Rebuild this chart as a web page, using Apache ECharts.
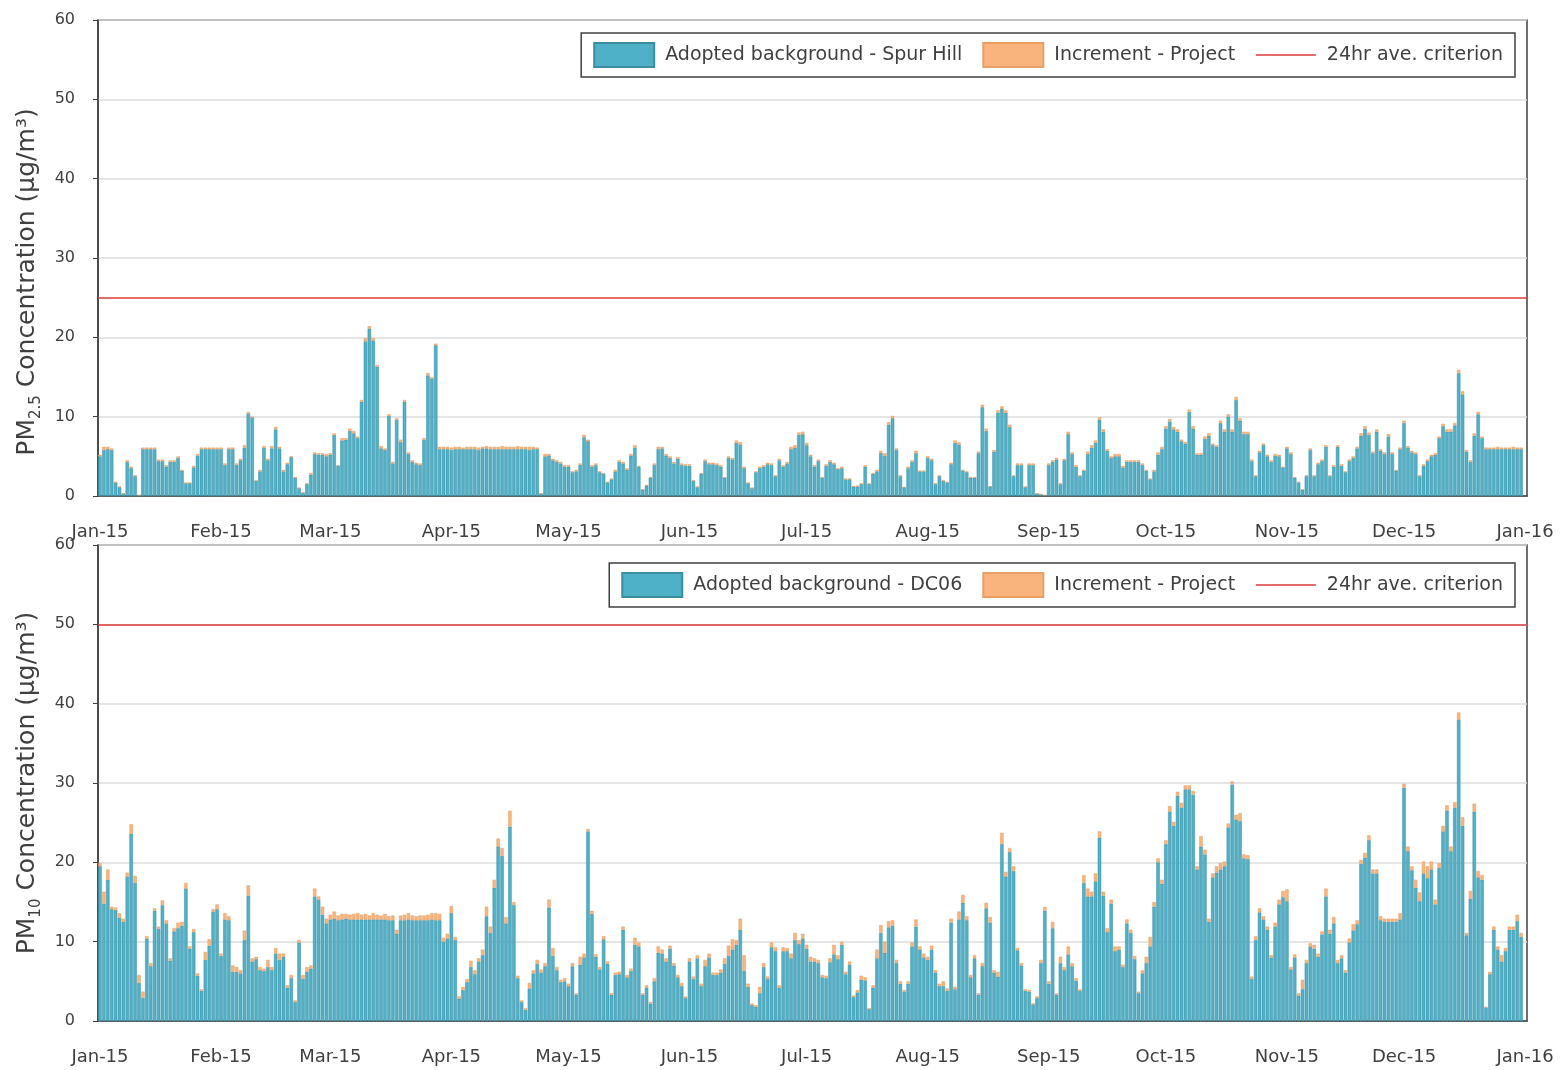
<!DOCTYPE html>
<html><head><meta charset="utf-8">
<script src="https://cdn.jsdelivr.net/npm/echarts@6/dist/echarts.min.js"></script>
<style>html,body{margin:0;padding:0;background:#fff}#c{width:1562px;height:1070px}</style>
</head><body><div id="c"></div>
<script>
// ---------- DATA ----------
const monthLabels = ['Jan-15','Feb-15','Mar-15','Apr-15','May-15','Jun-15','Jul-15','Aug-15','Sep-15','Oct-15','Nov-15','Dec-15','Jan-16'];
const monthDays = [31,28,31,30,31,30,31,31,30,31,30,31];
const yTicks = [0,10,20,30,40,50,60];

const pm25Criterion = 25;
const pm10Criterion = 50;

// PM2.5 total (background + increment), one value per day
const pm25Total = [
 5.2,6.2,6.2,6.0,1.8,1.2,0.3,4.5,3.7,2.6,0.1,6.1,6.1,6.1,6.1,4.6,4.6,3.9,4.5,4.5,5.0,3.3,1.7,1.7,3.8,5.3,6.1,6.1,6.1,6.1,6.1,
 6.1,4.1,6.1,6.1,4.1,4.7,6.4,10.6,10.0,2.0,3.3,6.3,4.7,6.3,8.7,6.2,3.3,4.2,5.0,2.4,1.0,0.5,1.6,2.9,5.5,5.4,5.4,5.3,
 5.4,7.9,3.9,7.3,7.3,8.5,8.2,7.5,12.1,19.9,21.4,19.9,16.5,6.3,6.0,10.3,4.3,9.8,7.1,12.1,5.5,4.5,4.2,4.1,7.3,15.5,15.0,19.2,6.2,6.2,6.2,
 6.1,6.2,6.2,6.1,6.2,6.2,6.2,6.1,6.2,6.3,6.2,6.2,6.2,6.3,6.2,6.2,6.2,6.3,6.2,6.2,6.2,6.2,6.1,0.3,5.3,5.3,4.7,4.5,4.3,3.9,
 3.9,3.1,3.3,4.1,7.7,7.1,3.9,4.1,3.1,2.9,1.8,2.2,3.3,4.5,4.3,3.5,5.3,6.4,3.8,0.8,1.4,2.4,4.1,6.2,6.2,5.3,5.0,4.3,4.9,4.1,4.0,
 4.0,2.0,1.2,2.9,4.6,4.2,4.2,4.1,3.9,2.4,5.0,4.8,7.0,6.8,3.7,1.7,1.0,3.1,3.7,3.9,4.2,4.1,2.6,4.7,3.9,4.3,6.2,6.4,8.0,8.1,
 6.7,5.2,3.9,4.6,2.4,4.0,4.5,4.2,3.5,3.7,2.2,2.2,1.2,1.3,1.6,3.9,1.6,2.9,3.3,5.7,5.4,9.3,10.1,6.0,2.6,1.1,3.7,4.5,5.7,3.2,3.2,
 5.0,4.7,1.6,2.6,2.0,1.8,4.2,7.0,6.8,3.3,3.1,2.4,2.4,5.6,11.5,8.5,1.2,5.8,10.8,11.3,10.8,9.0,2.6,4.1,4.1,1.2,4.1,4.1,0.3,0.2,0.1,
 4.1,4.5,4.8,1.6,4.7,8.1,5.5,3.9,2.6,3.3,5.6,6.4,7.0,9.9,8.4,5.9,5.0,5.3,5.3,3.8,4.5,4.5,4.5,4.5,4.1,3.3,2.2,3.3,5.5,6.2,
 8.8,9.7,8.7,8.4,7.1,6.8,10.9,8.8,5.4,5.4,7.5,7.9,6.6,6.4,9.5,8.4,10.3,8.4,12.5,9.8,8.1,8.1,4.6,2.6,5.7,6.6,5.2,4.5,5.3,5.2,3.7,
 6.2,5.5,2.4,1.8,0.8,2.6,6.0,2.6,4.2,4.6,6.4,2.6,3.9,6.4,4.0,3.1,4.6,5.0,6.2,7.9,8.8,8.0,5.6,8.4,5.9,5.5,7.8,5.5,3.3,6.1,
 9.5,6.3,5.7,5.5,2.6,4.0,4.6,5.2,5.4,7.5,9.1,8.4,8.4,9.2,15.9,13.2,5.8,4.5,7.9,10.6,7.5,6.1,6.1,6.1,6.2,6.1,6.1,6.1,6.2,6.1,6.1
];
const pm25Increment = [
 0.2,0.4,0.3,0.2,0.1,0.1,0.0,0.2,0.2,0.1,0.0,0.2,0.2,0.2,0.2,0.2,0.2,0.2,0.2,0.2,0.2,0.1,0.1,0.1,0.2,0.2,0.2,0.2,0.2,0.2,0.2,
 0.2,0.2,0.2,0.2,0.2,0.2,0.3,0.2,0.1,0.1,0.2,0.2,0.2,0.3,0.3,0.2,0.2,0.2,0.1,0.1,0.0,0.1,0.1,0.2,0.2,0.2,0.2,0.3,
 0.2,0.2,0.1,0.3,0.2,0.3,0.3,0.2,0.2,0.4,0.3,0.3,0.2,0.3,0.2,0.2,0.2,0.2,0.3,0.2,0.2,0.2,0.2,0.2,0.2,0.3,0.2,0.2,0.3,0.3,0.3,
 0.3,0.3,0.3,0.2,0.3,0.3,0.3,0.3,0.2,0.3,0.3,0.3,0.3,0.4,0.3,0.3,0.3,0.4,0.3,0.3,0.4,0.3,0.2,0.0,0.3,0.2,0.2,0.2,0.2,0.2,
 0.2,0.1,0.2,0.2,0.3,0.2,0.2,0.2,0.1,0.1,0.1,0.1,0.2,0.2,0.2,0.2,0.2,0.3,0.1,0.0,0.1,0.1,0.2,0.3,0.2,0.2,0.2,0.2,0.2,0.2,0.2,
 0.2,0.1,0.1,0.1,0.2,0.2,0.2,0.2,0.2,0.1,0.2,0.2,0.3,0.3,0.2,0.1,0.0,0.1,0.2,0.2,0.2,0.2,0.1,0.2,0.2,0.2,0.3,0.3,0.3,0.3,
 0.3,0.2,0.2,0.2,0.1,0.2,0.2,0.2,0.1,0.2,0.1,0.1,0.0,0.1,0.1,0.2,0.1,0.1,0.2,0.3,0.3,0.3,0.3,0.2,0.1,0.0,0.2,0.2,0.3,0.1,0.1,
 0.2,0.2,0.1,0.1,0.1,0.1,0.2,0.3,0.3,0.1,0.1,0.1,0.1,0.2,0.3,0.3,0.0,0.2,0.3,0.3,0.3,0.3,0.1,0.2,0.2,0.1,0.2,0.2,0.0,0.0,0.0,
 0.2,0.2,0.2,0.1,0.2,0.3,0.2,0.2,0.1,0.1,0.3,0.3,0.3,0.3,0.3,0.2,0.2,0.3,0.3,0.2,0.2,0.2,0.2,0.2,0.2,0.1,0.1,0.2,0.3,0.3,
 0.3,0.3,0.3,0.3,0.2,0.2,0.3,0.3,0.2,0.2,0.3,0.3,0.2,0.2,0.3,0.3,0.3,0.3,0.4,0.3,0.3,0.3,0.2,0.1,0.2,0.2,0.2,0.2,0.2,0.2,0.1,
 0.2,0.2,0.1,0.1,0.0,0.1,0.2,0.1,0.2,0.2,0.2,0.1,0.2,0.2,0.2,0.1,0.2,0.2,0.2,0.3,0.3,0.3,0.2,0.3,0.2,0.2,0.3,0.2,0.1,0.2,
 0.3,0.2,0.2,0.2,0.1,0.2,0.2,0.2,0.2,0.2,0.3,0.3,0.3,0.3,0.4,0.4,0.2,0.2,0.3,0.3,0.2,0.2,0.2,0.2,0.3,0.2,0.2,0.2,0.3,0.2,0.2
];

// PM10 total (background + increment), one value per day
const pm10Total = [
 19.9,16.3,19.1,14.4,14.3,13.6,12.9,18.7,24.8,18.3,5.8,3.7,10.7,7.3,14.2,11.9,15.2,12.7,7.9,11.7,12.4,12.5,17.4,9.4,11.6,6.0,4.0,8.7,10.3,14.1,14.7,
 8.5,13.6,13.2,7.0,6.8,6.4,11.4,17.1,7.9,8.1,6.8,6.6,7.7,6.8,9.2,8.5,8.5,4.5,5.8,2.6,10.2,5.8,6.8,7.0,16.7,15.7,14.4,12.9,
 13.4,13.8,13.3,13.5,13.5,13.4,13.5,13.6,13.4,13.5,13.3,13.6,13.4,13.3,13.5,13.2,13.3,11.5,13.3,13.4,13.6,13.3,13.2,13.3,13.3,13.4,13.6,13.6,13.5,10.5,11.0,
 14.5,10.6,3.1,4.3,5.3,7.6,6.4,7.9,9.0,14.4,11.9,17.8,23.0,21.8,13.1,26.5,15.0,5.7,2.6,1.6,4.8,6.4,7.7,6.5,7.3,15.3,9.2,6.8,5.2,5.4,
 4.7,7.3,3.5,8.1,8.5,24.2,13.9,8.4,6.8,10.7,7.5,3.5,6.1,6.2,11.9,5.8,6.6,10.5,9.9,3.5,4.5,2.4,5.4,9.4,9.0,7.9,9.5,7.3,5.8,4.8,3.1,
 7.9,5.6,8.3,4.7,7.7,8.5,6.1,6.1,6.5,7.9,9.5,10.3,10.2,12.9,8.3,4.7,2.2,2.0,4.3,7.3,5.6,9.9,9.3,4.5,9.3,9.2,8.5,11.1,10.2,11.0,
 9.6,8.1,7.9,7.7,5.8,5.7,7.9,9.6,8.3,10.0,6.2,7.5,3.2,3.9,5.7,5.5,1.6,4.5,9.0,12.1,10.0,12.6,12.7,7.7,5.0,3.9,5.0,9.9,12.8,9.4,8.5,
 8.1,9.5,6.4,4.7,5.0,4.1,12.9,4.3,13.8,15.9,13.2,5.8,8.3,3.5,7.3,14.9,13.1,6.4,6.2,23.7,18.8,21.8,19.5,9.2,7.3,4.0,3.9,2.2,3.1,7.7,14.4,
 5.0,12.5,3.5,8.1,6.8,9.4,7.3,5.4,4.0,18.4,16.7,16.3,18.6,23.9,16.3,11.7,15.3,9.4,9.4,7.1,12.8,11.5,8.2,3.7,6.4,8.1,10.6,15.0,20.5,17.8,
 22.8,27.1,25.1,28.9,27.5,29.7,29.7,29.0,19.5,23.3,21.6,12.9,18.6,19.5,19.9,20.1,24.9,30.2,26.0,26.2,21.0,20.9,5.6,10.7,14.2,13.2,11.9,8.3,12.4,15.3,16.4,
 16.6,6.8,8.4,3.5,5.2,7.7,9.8,9.6,8.5,11.3,16.7,11.5,13.1,7.7,8.3,6.4,10.4,12.2,12.7,20.3,21.2,23.4,19.1,19.1,13.2,12.9,12.9,12.9,12.9,13.6,
 29.9,22.0,19.5,17.8,16.2,20.1,19.5,20.1,15.3,19.9,24.6,27.2,22.0,27.6,38.9,25.7,11.1,16.4,27.4,18.9,18.4,1.8,6.2,11.9,9.4,8.3,9.2,11.9,11.9,13.4,11.1
];
const pm10Increment = [
 0.4,1.5,1.3,0.3,0.3,0.6,0.4,0.5,1.2,0.9,1.0,0.8,0.3,0.4,0.3,0.3,0.6,0.4,0.3,0.4,0.7,0.5,0.7,0.3,0.4,0.3,0.2,1.0,0.8,0.3,0.6,
 0.3,0.8,0.5,0.8,0.6,0.4,1.2,1.3,0.4,0.3,0.4,0.3,0.9,0.4,0.7,0.8,0.4,0.3,0.4,0.2,0.3,0.5,0.6,0.4,1.0,0.4,1.0,0.6,
 0.6,0.9,0.6,0.7,0.6,0.6,0.7,0.8,0.6,0.7,0.5,0.8,0.6,0.5,0.7,0.5,0.6,0.5,0.6,0.7,0.8,0.6,0.5,0.6,0.6,0.7,0.8,0.9,0.8,0.5,0.6,
 0.9,0.4,0.3,0.4,0.4,0.8,0.5,0.4,0.7,1.2,0.8,1.0,1.0,1.0,0.8,2.0,0.4,0.3,0.2,0.2,0.7,0.4,0.5,0.4,0.4,1.0,1.0,0.4,0.3,0.4,
 0.3,0.4,0.2,1.0,0.5,0.3,0.4,0.3,0.3,0.4,0.3,0.2,0.3,0.3,0.4,0.3,0.3,0.9,0.5,0.2,0.3,0.2,0.4,0.8,0.5,0.4,0.4,0.3,0.3,0.4,0.2,
 0.4,0.3,0.4,0.3,0.8,0.5,0.3,0.3,0.4,0.7,1.3,1.3,0.6,1.4,2.0,0.4,0.2,0.2,0.8,0.5,0.3,0.6,0.5,0.3,0.5,0.4,0.6,0.9,0.5,0.6,
 0.5,0.6,0.4,0.4,0.3,0.3,0.5,1.2,0.5,0.4,0.3,0.4,0.2,0.3,0.5,0.4,0.1,0.3,1.1,1.0,1.4,0.8,0.7,0.4,0.3,0.2,0.3,0.5,0.9,0.4,0.5,
 0.4,0.5,0.3,0.3,0.6,0.3,0.5,0.3,1.0,1.0,0.5,0.3,0.4,0.2,0.4,0.7,0.7,0.3,0.6,1.4,0.6,0.5,0.6,0.3,0.3,0.2,0.2,0.1,0.2,0.4,0.5,
 0.3,0.8,0.2,0.8,0.4,1.0,0.4,0.3,0.2,1.0,1.0,0.6,1.0,0.8,0.5,0.5,0.5,0.6,0.4,0.3,0.5,0.4,0.4,0.2,0.4,0.8,1.2,0.6,0.5,0.5,
 0.5,0.7,0.5,0.5,0.6,0.5,0.5,0.5,0.4,1.3,0.6,0.4,0.5,0.8,0.8,0.6,0.5,0.4,0.6,1.0,0.5,0.5,0.3,0.5,0.5,0.4,0.4,0.3,0.5,0.6,0.8,
 1.5,0.3,0.4,0.3,1.2,0.4,0.4,0.5,0.4,0.4,1.0,0.5,0.8,0.4,0.4,0.3,0.5,0.8,0.5,0.5,0.6,0.6,0.5,0.5,0.5,0.4,0.4,0.4,0.4,0.8,
 0.5,0.6,0.5,1.0,1.1,1.5,1.5,1.0,0.6,0.6,0.7,0.7,0.6,0.7,0.9,1.1,0.3,1.0,1.0,0.8,0.6,0.1,0.3,0.4,0.4,0.8,0.4,0.4,0.4,0.8,0.5
];

// ---------- BUILD ----------
const categories = [];
const labelAt = {};
monthDays.forEach(function (n, m) {
  labelAt[categories.length] = monthLabels[m];
  for (let d = 1; d <= n; d++) categories.push((m + 1) + '/' + d + '/2015');
});
labelAt[categories.length] = monthLabels[12];
categories.push('1/1/2016');

function background(total, inc) {
  return total.map(function (t, i) { return Math.max(0, +(t - inc[i]).toFixed(2)); });
}
const pm25Bg = background(pm25Total, pm25Increment);
const pm10Bg = background(pm10Total, pm10Increment);

const FONT = 'DejaVu Sans';
const TXT = '#404040';
const TEAL = '#4FB1C7', TEAL_B = '#3A8DA2';
const ORANGE = '#F8B47C', ORANGE_B = '#E9A066';
const RED = '#DE3B3B';
const isStart = function (i) { return labelAt[i] !== undefined; };

function xAxis(g) {
  return {
    type: 'category', gridIndex: g, data: categories, boundaryGap: true,
    axisLine: { lineStyle: { color: TXT, width: 1.5 } },
    axisTick: { interval: isStart, length: 6, lineStyle: { color: TXT, width: 1.2 } },
    axisLabel: { interval: isStart, formatter: function (v, i) { return labelAt[i] || ''; },
      fontSize: 18, color: TXT, fontFamily: FONT, margin: 27 },
    splitLine: { show: false }
  };
}
function yAxis(g, name, pad) {
  return {
    type: 'value', gridIndex: g, min: yTicks[0], max: yTicks[yTicks.length - 1], interval: 10,
    name: name, nameLocation: 'middle', nameGap: 50,
    nameTextStyle: { color: TXT, fontFamily: FONT, padding: pad,
      rich: { a: { fontSize: 25, color: TXT, fontFamily: FONT, lineHeight: 32 },
              s: { fontSize: 15, color: TXT, fontFamily: FONT, verticalAlign: 'bottom', lineHeight: 15 } } },
    axisLine: { show: true, lineStyle: { color: TXT, width: 1.5 } },
    axisTick: { show: true, length: 5, lineStyle: { color: TXT } },
    axisLabel: { fontSize: 16, color: TXT, fontFamily: FONT, margin: 23 },
    splitLine: { show: true, lineStyle: { color: '#DCDCDC', width: 1.5 } }
  };
}
function bars(name, data, g, stack, color, border) {
  return { type: 'bar', name: name, data: data, xAxisIndex: g, yAxisIndex: g, stack: stack,
    barCategoryGap: '12%', itemStyle: { color: color, borderColor: border, borderWidth: 0.5 } };
}
function crit(value, g) {
  return { type: 'line', name: '24hr ave. criterion', data: [], xAxisIndex: g, yAxisIndex: g,
    symbol: 'none', lineStyle: { color: RED, width: 1.5 }, itemStyle: { color: RED },
    markLine: { silent: true, symbol: 'none', label: { show: false },
      lineStyle: { color: RED, width: 1.5, type: 'solid' }, data: [{ yAxis: value }] } };
}
function legend(bgName, top) {
  return {
    top: top, right: 47, orient: 'horizontal',
    data: [
      { name: bgName, icon: 'rect' },
      { name: 'Increment - Project', icon: 'rect' },
      { name: '24hr ave. criterion', itemStyle: { color: 'rgba(0,0,0,0)', borderWidth: 0, opacity: 0 }, lineStyle: { color: RED, width: 1.5, opacity: 1 } }
    ],
    itemWidth: 60, itemHeight: 24, itemGap: 20,
    padding: [9, 12, 9, 12], borderColor: TXT, borderWidth: 1.5, backgroundColor: '#fff',
    textStyle: { fontSize: 19, color: TXT, fontFamily: FONT, padding: [0, 0, 0, 6] },
    selectedMode: false
  };
}

const chart = echarts.init(document.getElementById('c'));
chart.setOption({
  animation: false,
  backgroundColor: '#fff',
  grid: [
    { left: 98, top: 20, width: 1429, height: 476, show: true, borderColor: TXT, borderWidth: 1.5, backgroundColor: 'transparent' },
    { left: 98, top: 545, width: 1429, height: 476, show: true, borderColor: TXT, borderWidth: 1.5, backgroundColor: 'transparent' }
  ],
  legend: [legend('Adopted background - Spur Hill', 33), legend('Adopted background - DC06', 563)],
  xAxis: [xAxis(0), xAxis(1)],
  yAxis: [yAxis(0, '{a|PM}{s|2.5}{a| Concentration (µg/m³)}', [0, 48, 0, 0]), yAxis(1, '{a|PM}{s|10}{a| Concentration (µg/m³)}', 0)],
  series: [
    bars('Adopted background - Spur Hill', pm25Bg, 0, 'p25', TEAL, TEAL_B),
    bars('Increment - Project', pm25Increment, 0, 'p25', ORANGE, ORANGE_B),
    crit(pm25Criterion, 0),
    bars('Adopted background - DC06', pm10Bg, 1, 'p10', TEAL, TEAL_B),
    bars('Increment - Project', pm10Increment, 1, 'p10', ORANGE, ORANGE_B),
    crit(pm10Criterion, 1)
  ]
});
</script></body></html>
